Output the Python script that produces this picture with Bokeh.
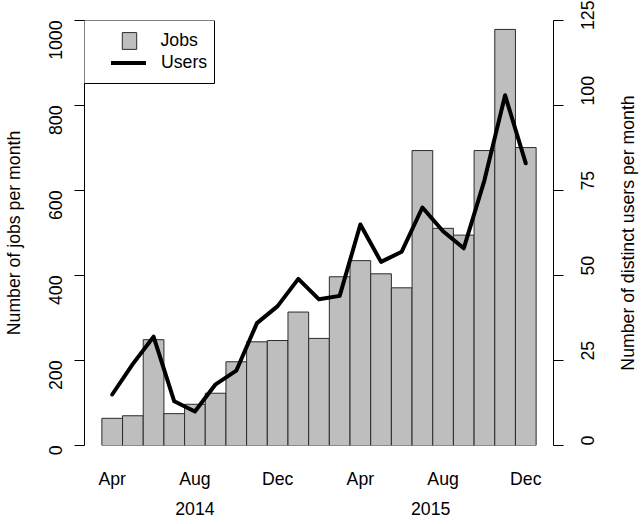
import math
import numpy as np
from bokeh.plotting import figure
from bokeh.layouts import row
from bokeh.models import (Range1d, LinearAxis, FixedTicker, Legend, LegendItem,
                          BoxAnnotation)
from bokeh.embed import file_html
from bokeh.resources import INLINE

# ---- data ----
months = ["Apr 2014", "May 2014", "Jun 2014", "Jul 2014", "Aug 2014", "Sep 2014",
          "Oct 2014", "Nov 2014", "Dec 2014", "Jan 2015", "Feb 2015", "Mar 2015",
          "Apr 2015", "May 2015", "Jun 2015", "Jul 2015", "Aug 2015", "Sep 2015",
          "Oct 2015", "Nov 2015", "Dec 2015"]
jobs = [64, 70, 249, 75, 97, 123, 197, 244, 247, 314, 252, 397,
        435, 404, 371, 694, 511, 495, 694, 979, 701]
users = [15, 24, 32, 13, 10, 18, 22, 36, 41, 49, 43, 44,
         65, 54, 57, 70, 63, 58, 78, 103, 83]
month_tick_idx = [0, 4, 8, 12, 16, 20]
month_tick_labels = ["Apr", "Aug", "Dec", "Apr", "Aug", "Dec"]
year_labels = ["2014", "2015"]
year_tick_pos = [4.5, 15.9]
jobs_ticks = [0, 200, 400, 600, 800, 1000]
users_ticks = [0, 25, 50, 75, 100, 125]
left_title = "Number of jobs per month"
right_title = "Number of distinct users per month"

FONT = "Liberation Sans"
FS = "17.7px"

n = len(months)
xc = np.arange(n) + 0.5
pad = 0.04 * n

p = figure(width=607, height=524, output_backend="svg", toolbar_location=None,
           x_range=Range1d(-pad, n + pad), y_range=Range1d(0, 1000),
           min_border_left=83, min_border_right=54, min_border_top=20,
           min_border_bottom=79)
p.extra_y_ranges = {"users": Range1d(0, 125)}
p.outline_line_color = None
p.xgrid.visible = False
p.ygrid.visible = False
p.background_fill_color = "white"

bars = p.vbar(x=xc, width=1.0, top=jobs, bottom=0, fill_color="#bebebe",
              line_color="#2b2b2b", line_width=1)
line = p.line(x=xc, y=users, y_range_name="users", line_color="black",
              line_width=4, line_join="round", line_cap="round")

def style_axis(ax):
    ax.axis_line_color = "black"
    ax.major_tick_line_color = "black"
    ax.minor_tick_line_color = None
    ax.major_tick_in = 0
    ax.major_tick_out = 10
    ax.major_label_text_font = FONT
    ax.major_label_text_font_size = FS
    ax.major_label_text_color = "black"
    ax.axis_label_text_font = FONT
    ax.axis_label_text_font_size = FS
    ax.axis_label_text_font_style = "normal"
    ax.axis_label_text_color = "black"

# left axis
la = p.yaxis[0]
style_axis(la)
la.ticker = FixedTicker(ticks=jobs_ticks)
la.major_label_orientation = math.pi / 2
la.major_label_standoff = 19
la.axis_label = left_title
la.axis_label_standoff = 16

# right axis (ticks only; its title is drawn by the narrow panel beside)
ra = LinearAxis(y_range_name="users", ticker=FixedTicker(ticks=users_ticks))
style_axis(ra)
ra.major_label_orientation = math.pi / 2
ra.major_label_standoff = 24
p.add_layout(ra, "right")

# bottom month axis
ba = p.xaxis[0]
style_axis(ba)
ba.axis_line_color = None
ba.major_tick_line_color = None
ba.major_tick_out = 0
ba.ticker = FixedTicker(ticks=[xc[i] for i in month_tick_idx])
ba.major_label_overrides = {float(xc[i]): lab for i, lab in zip(month_tick_idx, month_tick_labels)}
ba.major_label_standoff = 23

# year axis
ya = LinearAxis(ticker=FixedTicker(ticks=year_tick_pos))
style_axis(ya)
ya.axis_line_color = None
ya.major_tick_line_color = None
ya.major_tick_out = 0
ya.major_label_overrides = {float(v): lab for v, lab in zip(year_tick_pos, year_labels)}
ya.major_label_standoff = 10
p.add_layout(ya, "below")

# legend: frame box + two borderless legends
box = BoxAnnotation(left=83, right=214, top=20, bottom=83,
                    left_units="canvas", right_units="canvas",
                    top_units="canvas", bottom_units="canvas",
                    fill_color="white", fill_alpha=1.0,
                    line_color="black", line_width=1, line_alpha=1.0)
p.add_layout(box)

common = dict(margin=0, padding=0, spacing=0, border_line_color=None,
              background_fill_alpha=0, label_text_font=FONT,
              label_text_font_size=FS, label_text_color="black")
leg_jobs = Legend(items=[LegendItem(label="Jobs", renderers=[bars])],
                  location=(35.5, 394.5), glyph_width=18, glyph_height=21,
                  label_height=21, label_standoff=23, **common)
leg_users = Legend(items=[LegendItem(label="Users", renderers=[line])],
                   location=(27, 372.5), glyph_width=35, glyph_height=21,
                   label_height=21, label_standoff=15, **common)
p.add_layout(leg_jobs)
p.add_layout(leg_users)

# narrow side panel carrying the right-hand axis title (reads bottom-to-top)
p2 = figure(width=35, height=524, output_backend="svg", toolbar_location=None,
            x_axis_location=None, x_range=Range1d(0, 1), y_range=Range1d(0, 125),
            min_border_left=30, min_border_right=0, min_border_top=20,
            min_border_bottom=79)
p2.outline_line_color = None
p2.xgrid.visible = False
p2.ygrid.visible = False
ax2 = p2.yaxis[0]
style_axis(ax2)
ax2.ticker = FixedTicker(ticks=[])
ax2.axis_line_color = None
ax2.major_tick_line_color = None
ax2.major_tick_out = 0
ax2.axis_label = right_title
ax2.axis_label_standoff = 0

layout = row(p, p2, spacing=0)
open("out.html", "w").write(file_html(layout, INLINE))
